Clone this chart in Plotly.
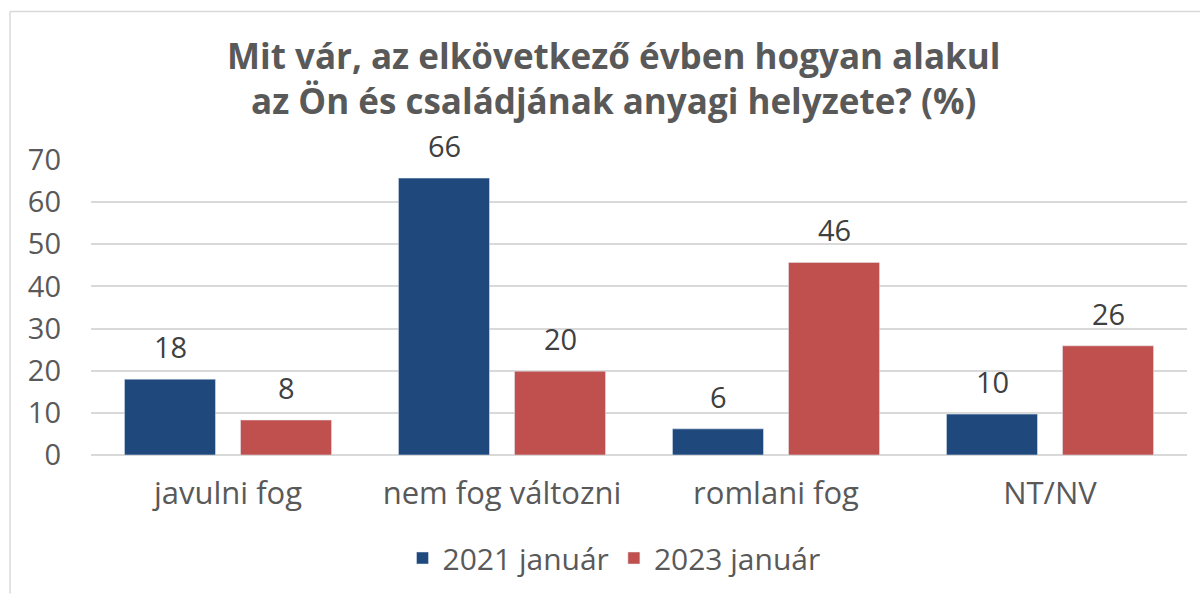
import plotly.graph_objects as go

categories = ["javulni fog", "nem fog változni", "romlani fog", "NT/NV"]
series_2021 = [18.0, 65.7, 6.2, 9.7]
series_2023 = [8.3, 19.9, 45.7, 25.9]
labels_2021 = ["18", "66", "6", "10"]
labels_2023 = ["8", "20", "46", "26"]
series_names = ["2021 január", "2023 január"]
y_ticks = [0, 10, 20, 30, 40, 50, 60, 70]

BLUE = "#1F497D"
RED = "#C0504D"
GRAY = "#595959"
FONT = "Open Sans"
FS = 29

fig = go.Figure()
fig.add_trace(go.Bar(x=categories, y=series_2021, name=series_names[0], marker_color=BLUE))
fig.add_trace(go.Bar(x=categories, y=series_2023, name=series_names[1], marker_color=RED))

L, R, T, B = 91, 13, 160, 139
W, H = 1200, 595
pw, ph = W - L - R, H - T - B

def px_x(x):
    return (x - L) / pw

def px_y(y):
    return (H - B - y) / ph

# data labels above bars (offset to each bar's group slot)
slot_px = 116 / 2
annotations = []
for vals, labs, sh in [(series_2021, labels_2021, -slot_px), (series_2023, labels_2023, slot_px)]:
    for c, v, t in zip(categories, vals, labs):
        annotations.append(dict(x=c, y=v, xref="x", yref="y", text=t, showarrow=False,
                                yanchor="bottom", xshift=sh, yshift=11,
                                font=dict(family=FONT, size=FS, color="#404040")))

title_lines = ["<b>Mit vár, az elkövetkező évben hogyan alakul</b>",
               "<b>az Ön és családjának anyagi helyzete? (%)</b>"]
for line, ypx in zip(title_lines, [55, 100]):
    annotations.append(dict(text=line, x=px_x(613), y=px_y(ypx),
                            xref="paper", yref="paper", showarrow=False, xanchor="center", yanchor="middle",
                            font=dict(family=FONT, size=35, color=GRAY)))

fig.update_layout(
    width=W, height=H,
    margin=dict(l=L, r=R, t=T, b=B),
    paper_bgcolor="white", plot_bgcolor="white",
    barmode="group", bargap=0.153, bargroupgap=0.2155,
    font=dict(family=FONT, color=GRAY, size=FS),
    xaxis=dict(showgrid=False, showline=False, ticks="", tickfont=dict(size=31, color=GRAY),
               ticklabelstandoff=17),
    yaxis=dict(range=[0, 70], tickvals=y_ticks, showgrid=True, gridcolor="#D9D9D9", gridwidth=2,
               zeroline=True, zerolinecolor="#D9D9D9", zerolinewidth=2,
               tickfont=dict(size=FS, color=GRAY), ticklabelstandoff=29),
    legend=dict(orientation="h", x=px_x(614), xanchor="center",
                y=px_y(558), yanchor="middle", font=dict(size=30, color=GRAY),
                itemwidth=30, traceorder="normal"),
    showlegend=True,
    annotations=annotations,
    shapes=[
        dict(type="line", xref="paper", yref="paper", x0=px_x(10), x1=px_x(1200), y0=px_y(11), y1=px_y(11),
             line=dict(color="#D9D9D9", width=1.5)),
        dict(type="line", xref="paper", yref="paper", x0=px_x(10), x1=px_x(10), y0=px_y(11), y1=px_y(595),
             line=dict(color="#D9D9D9", width=1.5)),
    ],
)

fig.write_html("out.html")
